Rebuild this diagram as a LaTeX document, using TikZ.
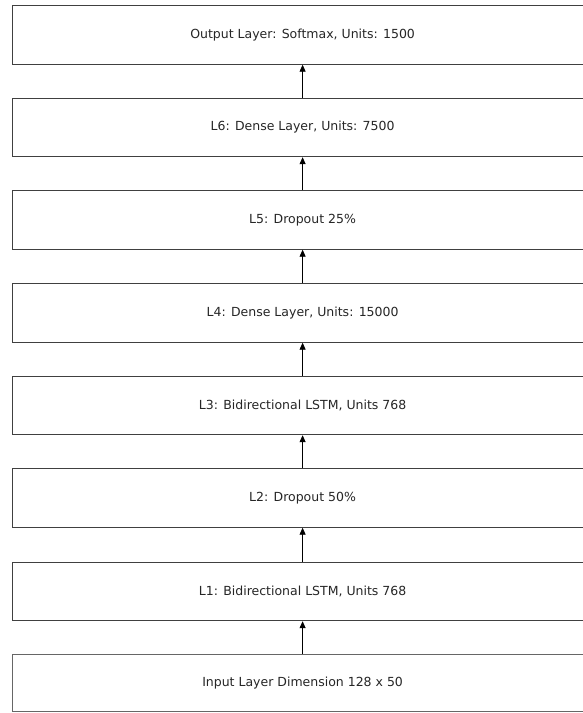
\documentclass[tikz,border=0pt]{standalone}
\usepackage{fontspec}
\setmainfont{DejaVu Sans}
\usetikzlibrary{arrows.meta}
\begin{document}
\begin{tikzpicture}[x=1pt,y=-1pt,
  layer/.style={draw=black!75, line width=1.2pt, fill=white, minimum width=580pt, minimum height=58.5pt, inner sep=0pt, font=\fontsize{12.5}{15}\selectfont, anchor=north west, text=black!85},
  conn/.style={-{Triangle[length=7pt,width=6pt]}, line width=0.9pt, black}]
\useasboundingbox (0,0) rectangle (582,713);
\node[layer] (out) at (12,5) {\makebox[580pt]{Output Layer: Softmax, Units: 1500}};
\node[layer] (l6) at (12,97.5) {\makebox[580pt]{L6: Dense Layer, Units: 7500}};
\node[layer] (l5) at (12,190) {\makebox[580pt]{L5: Dropout 25\%}};
\node[layer] (l4) at (12,283) {\makebox[580pt]{L4: Dense Layer, Units: 15000}};
\node[layer] (l3) at (12,375.5) {\makebox[580pt]{L3: Bidirectional LSTM, Units 768}};
\node[layer] (l2) at (12,468) {\makebox[580pt]{L2: Dropout 50\%}};
\node[layer] (l1) at (12,561.5) {\makebox[580pt]{L1: Bidirectional LSTM, Units 768}};
\node[layer, minimum height=57pt, draw=black!60] (in) at (12,654) {\makebox[580pt]{Input Layer Dimension 128 x 50}};
\draw[conn] (l6.north) -- (out.south);
\draw[conn] (l5.north) -- (l6.south);
\draw[conn] (l4.north) -- (l5.south);
\draw[conn] (l3.north) -- (l4.south);
\draw[conn] (l2.north) -- (l3.south);
\draw[conn] (l1.north) -- (l2.south);
\draw[conn] (in.north) -- (l1.south);
\end{tikzpicture}
\end{document}
